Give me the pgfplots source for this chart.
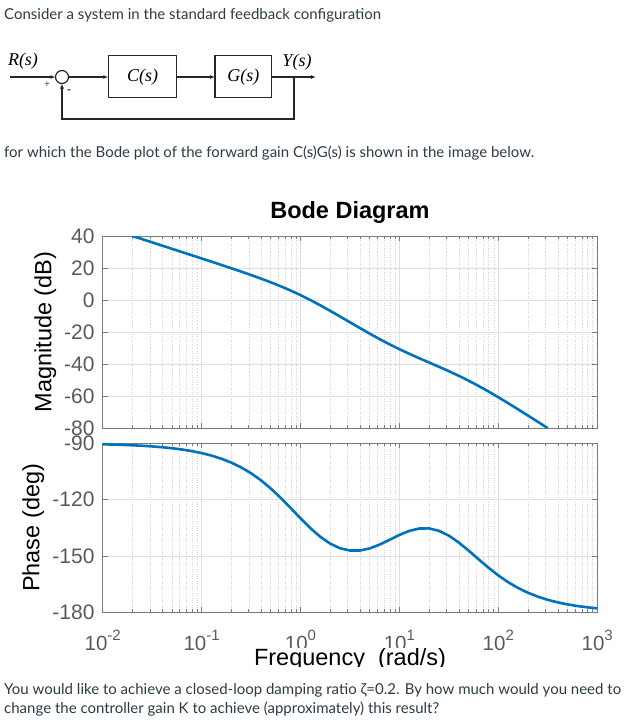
\documentclass[border=0pt]{standalone}
\usepackage{fontspec}
\setmainfont{Lato}
\newfontfamily\helv{Liberation Sans}
\newfontfamily\tms{Liberation Serif}
\usepackage{pgfplots}
\usepackage{pgfplotstable}
\pgfplotsset{compat=1.18}
\usetikzlibrary{arrows.meta}

\definecolor{matblue}{HTML}{0072BD}
\definecolor{bodytext}{HTML}{2D3B45}
\definecolor{axgray}{HTML}{7A7A7A}
\definecolor{ticktext}{HTML}{5A5A5A}
\definecolor{gridmaj}{HTML}{E0E0E0}
\definecolor{gridmin}{HTML}{D4D4D4}

\newcommand\sz[1]{\fontsize{#1}{#1}\selectfont}
\newcommand\dec[1]{10\raisebox{10pt}{\sz{15}#1}}

% magnitude of C(s)G(s)
\pgfplotstableread{
w        mag
0.01995  40.02
0.02512  38.02
0.03162  36.02
0.03981  34.01
0.05012  32.01
0.0631   30.00
0.07943  27.99
0.1      25.98
0.1259   23.95
0.1585   21.92
0.1995   19.85
0.2512   17.76
0.3162   15.61
0.3981   13.39
0.5012   11.06
0.631     8.59
0.7943    5.93
1         3.06
1.259    -0.02
1.585    -3.31
1.995    -6.75
2.512   -10.31
3.162   -13.91
3.981   -17.50
5.012   -21.03
6.31    -24.44
7.943   -27.68
10      -30.74
12.59   -33.63
15.85   -36.38
19.95   -39.05
25.12   -41.73
31.62   -44.47
39.81   -47.36
50.12   -50.43
63.1    -53.70
79.43   -57.15
100     -60.77
125.9   -64.50
158.5   -68.32
199.5   -72.21
251.2   -76.13
316.2   -80.09
}\magtab

% phase of C(s)G(s)
\pgfplotstableread{
w        ph
0.01     -90.52
0.01259  -90.66
0.01585  -90.83
0.01995  -91.04
0.02512  -91.31
0.03162  -91.65
0.03981  -92.08
0.05012  -92.61
0.0631   -93.29
0.07943  -94.14
0.1      -95.20
0.1259   -96.54
0.1585   -98.20
0.1995  -100.26
0.2512  -102.82
0.3162  -105.94
0.3981  -109.68
0.5012  -114.07
0.631   -119.04
0.7943  -124.43
1       -129.93
1.259   -135.18
1.585   -139.78
1.995   -143.42
2.512   -145.88
3.162   -147.11
3.981   -147.10
5.012   -145.97
6.31    -143.93
7.943   -141.41
10      -138.81
12.59   -136.64
15.85   -135.38
19.95   -135.32
25.12   -136.60
31.62   -139.17
39.81   -142.80
50.12   -147.13
63.1    -151.72
79.43   -156.21
100     -160.34
125.9   -163.97
158.5   -167.04
199.5   -169.58
251.2   -171.66
316.2   -173.35
398.1   -174.71
501.2   -175.79
631     -176.65
794.3   -177.34
1000    -177.88
}\phtab

\pgfplotsset{
  bode/.style={
    scale only axis,
    width=494.5pt,
    xmin=0.01, xmax=1000,
    xtick={0.01,0.1,1,10,100,1000},
    axis line style={axgray, line width=0.8pt},
    tick style={axgray, line width=0.6pt},
    tick align=inside,
    major tick length=5pt, minor tick length=3pt,
    minor y tick num=0,
    xmajorgrids, ymajorgrids, xminorgrids,
    major grid style={gridmaj, line width=0.6pt},
    minor grid style={gridmin, dotted, line width=0.5pt},
    yticklabel style={font=\helv\sz{21}, text=ticktext, anchor=east, inner sep=0pt, xshift=-8pt},
    ylabel style={font=\helv\sz{23.5}, text=black, anchor=base},
  },
  bodeline/.style={matblue, line width=2.6pt, line join=round, no marks},
}

\begin{document}
\begin{tikzpicture}
\path[use as bounding box] (0,0) rectangle (637pt,-721pt);

\begin{scope}[x=1pt, y=-1pt]
  % question text
  \node[anchor=base west, inner sep=0pt, text=bodytext, font=\sz{15}] at (4,19)
    {Consider a system in the standard feedback configuration};
  \node[anchor=base west, inner sep=0pt, text=bodytext, font=\sz{15}] at (4,157)
    {for which the Bode plot of the forward gain C(s)G(s) is shown in the image below.};

  % block diagram
  \begin{scope}[line width=1.2pt, draw=black!85, >={Latex[length=5pt,width=4pt]}]
    \draw[->] (10,77) -- (55.5,77);
    \draw (62,77) circle (6.5);
    \draw[->] (68.5,77) -- (108.3,77);
    \draw (108.3,55.7) rectangle (176.7,97.3);
    \draw[->] (176.7,77) -- (215,77);
    \draw (215,55.7) rectangle (271.7,97.3);
    \draw[->] (271.7,77) -- (316,77);
    \draw[->] (294,77) -- (294,119) -- (62,119) -- (62,83.5);
  \end{scope}
  \node[font=\tms\itshape\sz{18}] at (23,61) {R(s)};
  \node[font=\tms\itshape\sz{18}] at (142.5,77) {C(s)};
  \node[font=\tms\itshape\sz{18}] at (243.3,77) {G(s)};
  \node[font=\tms\itshape\sz{18}] at (297,62) {Y(s)};
  \node[font=\helv\sz{10}, text=black!70] at (47,85) {+};
  \node[font=\helv\sz{12}] at (69,92) {-};
\end{scope}

% magnitude
\begin{axis}[xmode=log, bode,
  at={(102.7pt,-428pt)}, anchor=south west,
  height=192pt,
  ymin=-80, ymax=40,
  ytick={-80,-60,-40,-20,0,20,40},
  yticklabels={-80,-60,-40,-20,0,20,40},
  xticklabels={},
  ylabel={Magnitude (dB)},
  ylabel style={at={(axis description cs:-0.104,0.5)}},
  title={Bode Diagram},
  title style={at={(axis description cs:0.5,1)}, anchor=base, yshift=11.5pt,
    font=\helv\bfseries\sz{23.5}},
]
\addplot[bodeline] table[x=w, y=mag] {\magtab};
\end{axis}

% phase
\begin{axis}[xmode=log, bode,
  at={(102.7pt,-612.3pt)}, anchor=south west,
  height=169pt,
  ymin=-180, ymax=-90,
  ytick={-180,-150,-120,-90},
  yticklabels={-180,-150,-120,-90},
  xticklabels={\dec{-2},\dec{-1},\dec{0},\dec{1},\dec{2},\dec{3}},
  xticklabel style={font=\helv\sz{20.5}, text=ticktext, anchor=base, yshift=-38pt},
  ylabel={Phase (deg)},
  ylabel style={at={(axis description cs:-0.128,0.5)}},
]
\addplot[bodeline] table[x=w, y=ph] {\phtab};
\end{axis}

\begin{scope}[x=1pt, y=-1pt]
  \node[anchor=base, inner sep=0pt, fill=white, font=\helv\sz{23.5}] at (350,665)
    {Frequency~~(rad/s)};
  \fill[white] (0,667) rectangle (637,721);
  \node[anchor=base west, inner sep=0pt, text=bodytext, font=\sz{15}] at (4,694)
    {You would like to achieve a closed-loop damping ratio ζ=0.2. By how much would you need to};
  \node[anchor=base west, inner sep=0pt, text=bodytext, font=\sz{15}] at (4,713)
    {change the controller gain K to achieve (approximately) this result?};
\end{scope}
\end{tikzpicture}
\end{document}
